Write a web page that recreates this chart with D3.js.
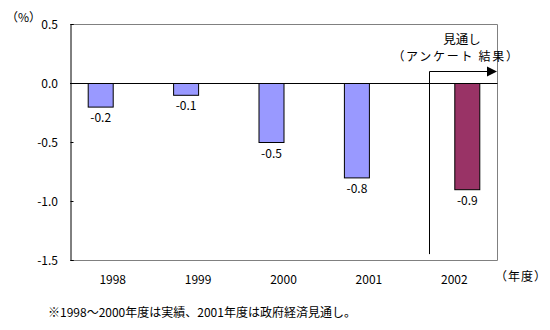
<!DOCTYPE html>
<html>
<head>
<meta charset="utf-8">
<script src="https://cdn.jsdelivr.net/npm/d3@7"></script>
<style>
  html, body { margin: 0; padding: 0; background: #fff; }
  svg text { font-family: "Noto Sans CJK JP", "DejaVu Sans", sans-serif; fill: #000; }
</style>
</head>
<body>
<svg id="chart" width="550" height="330"></svg>
<script>
// Fiscal years on the x axis
const years = ["1998", "1999", "2000", "2001", "2002"];
// Results and government outlook (%)
const actual = [-0.2, -0.1, -0.5, -0.8, null];
// Survey-based outlook (%)
const outlook = [null, null, null, null, -0.9];
// Y axis ticks
const yTicks = [0.5, 0.0, -0.5, -1.0, -1.5];
const yTickLabels = ["0.5", "0.0", "-0.5", "-1.0", "-1.5"];

const svg = d3.select("#chart");
const plotL = 70, plotR = 497, plotT = 24, plotB = 260;

const x = d3.scaleBand().domain(years).range([plotL, plotR]).padding(0);
const y = d3.scaleLinear().domain([-1.5, 0.5]).range([plotB, plotT]);
const barW = 25;
const mid = d => x(d) + x.bandwidth() / 2;

// Plot frame (top, right, bottom in grey)
svg.append("path")
  .attr("d", `M${plotL},${plotT + 0.5}H${plotR + 0.5}V${plotB + 0.5}H${plotL}`)
  .attr("fill", "none").attr("stroke", "#808080").attr("stroke-width", 1);

// Y axis with inward ticks
const yAxis = d3.axisRight(y).tickValues(yTicks).tickSize(3).tickFormat("");
const ya = svg.append("g").attr("transform", `translate(${plotL + 0.5},0)`).call(yAxis);
ya.select(".domain").attr("stroke", "#000");
ya.selectAll(".tick line").attr("stroke", "#000");

svg.append("g").selectAll("text").data(yTicks).join("text")
  .attr("x", 58).attr("y", d => y(d) + 4.5)
  .attr("text-anchor", "end").attr("font-size", 12)
  .text((d, i) => yTickLabels[i]);

// Bars: actual series left of category centre, outlook series right
const series = [
  { values: actual, offset: -barW, color: "#9999FF" },
  { values: outlook, offset: 0, color: "#993366" }
];
series.forEach(s => {
  const pts = years.map((yr, i) => ({ yr, v: s.values[i] })).filter(d => d.v != null);
  svg.append("g").selectAll("rect").data(pts).join("rect")
    .attr("x", d => mid(d.yr) + s.offset + 0.5)
    .attr("y", d => y(0) + 0.5)
    .attr("width", barW)
    .attr("height", d => y(d.v) - y(0))
    .attr("fill", s.color).attr("stroke", "#000").attr("stroke-width", 1);
  svg.append("g").selectAll("text").data(pts).join("text")
    .attr("x", d => mid(d.yr) + s.offset + barW / 2 + 0.5)
    .attr("y", d => y(d.v) + 15.5)
    .attr("text-anchor", "middle").attr("font-size", 12)
    .text(d => d.v.toFixed(1));
});

// Zero line
svg.append("line")
  .attr("x1", plotL).attr("x2", plotR + 0.5)
  .attr("y1", y(0) + 0.5).attr("y2", y(0) + 0.5)
  .attr("stroke", "#000");

// X category labels
svg.append("g").selectAll("text").data(years).join("text")
  .attr("x", d => mid(d))
  .attr("y", 284)
  .attr("text-anchor", "middle").attr("font-size", 12)
  .text(d => d);

// Units
svg.append("text").attr("x", 6).attr("y", 22).attr("font-size", 12).text("（%）");
svg.append("text").attr("x", 495).attr("y", 281).attr("font-size", 12)
  .attr("letter-spacing", 1).text("（年度）");

// Outlook marker: bracket line with arrow head
const ax = Math.round(mid("2002") - barW) + 0.5;
const ay = Math.round(y(0.1)) + 0.5;
svg.append("path")
  .attr("d", `M${ax},${y(-1.45)}V${ay}H${plotR - 10}`)
  .attr("fill", "none").attr("stroke", "#000");
svg.append("path")
  .attr("d", `M${plotR - 10},${ay - 5}L${plotR},${ay}L${plotR - 10},${ay + 5}Z`)
  .attr("fill", "#000");
const note = svg.append("text").attr("font-size", 12).attr("text-anchor", "middle");
note.append("tspan").attr("x", 462).attr("y", 43.5).attr("font-size", 12.5).text("見通し");
note.append("tspan").attr("x", 456).attr("y", 61).attr("letter-spacing", 1.7)
  .text("（アンケート 結果）");

// Footnote
svg.append("text").attr("x", 48).attr("y", 317).attr("font-size", 12)
  .text("※1998～2000年度は実績、2001年度は政府経済見通し。");
</script>
</body>
</html>
